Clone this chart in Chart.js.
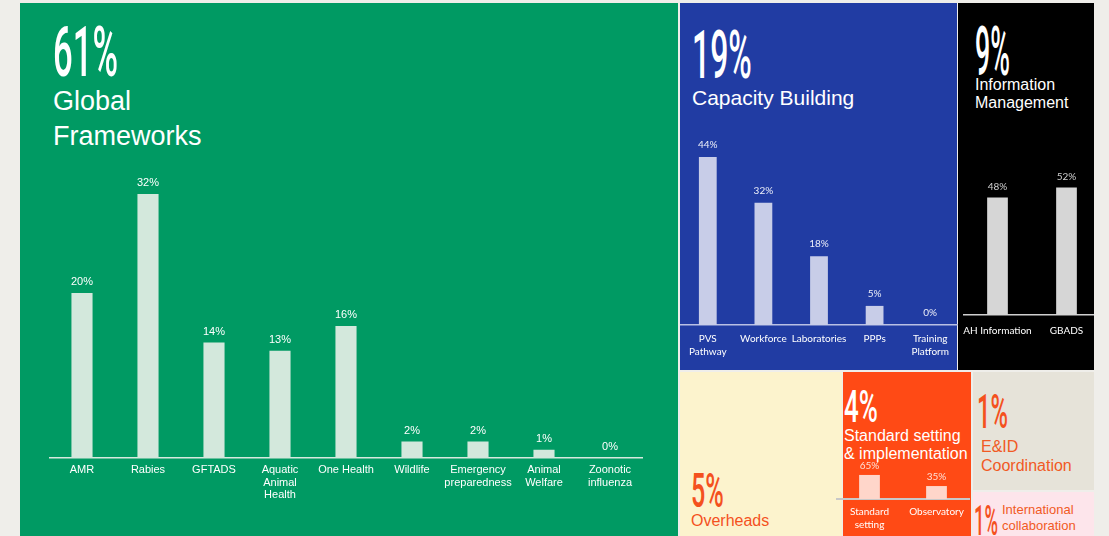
<!DOCTYPE html>
<html>
<head>
<meta charset="utf-8">
<script src="https://cdn.jsdelivr.net/npm/chart.js@4.4.1/dist/chart.umd.min.js"></script>
<style>
  html, body { margin: 0; padding: 0; }
  body { width: 1109px; height: 536px; overflow: hidden; background: #efeeea; position: relative; font-family: "Liberation Sans", Arial, sans-serif; }
  .panel { position: absolute; }
  .big { position: absolute; font-family: Roboto, sans-serif; font-weight: 500; line-height: 1; white-space: nowrap; transform-origin: 0 0; }
  .name { position: absolute; white-space: nowrap; }
  canvas { position: absolute; }
</style>
</head>
<body>
<!-- treemap panels -->
<div class="panel" style="left:20px;top:3px;width:658px;height:533px;background:#009a63"></div>
<div class="panel" style="left:680px;top:3px;width:277px;height:367px;background:#213ca3"></div>
<div class="panel" style="left:958px;top:3px;width:136px;height:367px;background:#000"></div>
<div class="panel" style="left:680px;top:372px;width:162px;height:164px;background:#fcf3cd"></div>
<div class="panel" style="left:843px;top:372px;width:128px;height:164px;background:#ff4a15"></div>
<div class="panel" style="left:973px;top:372px;width:121px;height:118px;background:#e6e3d9"></div>
<div class="panel" style="left:973px;top:492px;width:121px;height:44px;background:#fde5eb"></div>

<!-- shares -->
<div class="big" data-i="0" data-w="65" style="left:53px;top:17px;font-size:70px;color:#fff"></div>
<div class="big" data-i="1" data-w="60" style="left:692px;top:23px;font-size:66px;color:#fff"></div>
<div class="big" data-i="2" data-w="35" style="left:975px;top:18px;font-size:68px;color:#fff"></div>
<div class="big" data-i="3" data-w="33" style="left:691px;top:467px;font-size:48px;color:#f4511e"></div>
<div class="big" data-i="4" data-w="34" style="left:844px;top:384px;font-size:45px;color:#fff"></div>
<div class="big" data-i="5" data-w="31" style="left:977px;top:387px;font-size:49px;color:#f4511e"></div>
<div class="big" data-i="6" data-w="24" style="left:974px;top:500px;font-size:42px;color:#f4511e"></div>

<!-- names -->
<div class="name" style="left:53px;top:84px;font-size:27px;line-height:35px;color:#fff">Global<br>Frameworks</div>
<div class="name" style="left:692px;top:86px;font-size:21px;line-height:24px;color:#fff">Capacity Building</div>
<div class="name" style="left:975px;top:76px;font-size:16px;line-height:18px;color:#fff">Information<br>Management</div>
<div class="name" style="left:691px;top:512px;font-size:16px;line-height:18px;color:#f4511e">Overheads</div>
<div class="name" style="left:844px;top:427px;font-size:16px;line-height:18px;color:#fff">Standard setting<br>&amp; implementation</div>
<div class="name" style="left:981px;top:437px;font-size:16px;line-height:19px;color:#f15a24">E&amp;ID<br>Coordination</div>
<div class="name" style="left:1002px;top:502px;font-size:13px;line-height:16px;color:#f15a24">International<br>collaboration</div>

<canvas id="gf" width="594" height="388" style="left:49px;top:120px"></canvas>
<canvas id="cb" width="278" height="249" style="left:680px;top:120px"></canvas>
<div style="position:absolute;left:958px;top:140px;width:136px;height:230px;overflow:hidden">
  <canvas id="im" width="138" height="205" style="left:5px;top:10px"></canvas>
</div>
<canvas id="ss" width="134" height="90" style="left:836px;top:446px"></canvas>

<script>
const shares = [61, 19, 9, 5, 4, 1, 1];

const gfLabels = ['AMR', 'Rabies', 'GFTADS', ['Aquatic', 'Animal', 'Health'], 'One Health', 'Wildlife', ['Emergency', 'preparedness'], ['Animal', 'Welfare'], ['Zoonotic', 'influenza']];
const gfValues = [20, 32, 14, 13, 16, 2, 2, 1, 0];

const cbLabels = [['PVS', 'Pathway'], 'Workforce', 'Laboratories', 'PPPs', ['Training', 'Platform']];
const cbValues = [44, 32, 18, 5, 0];

const imLabels = ['AH Information', 'GBADS'];
const imValues = [48, 52];

const ssLabels = [['Standard', 'setting'], 'Observatory'];
const ssValues = [65, 35];

document.querySelectorAll('.big').forEach(el => {
    el.textContent = shares[+el.dataset.i] + '%';
    el.style.transform = 'scaleX(' + (el.dataset.w / el.offsetWidth) + ')';
});

// percentage text above each bar
const valueLabels = {
    id: 'valueLabels',
    afterDatasetsDraw(chart, args, o) {
        const ctx = chart.ctx;
        const values = chart.data.datasets[0].data;
        ctx.save();
        ctx.font = o.font;
        ctx.fillStyle = o.color;
        ctx.textAlign = 'center';
        ctx.textBaseline = 'middle';
        chart.getDatasetMeta(0).data.forEach((bar, i) => {
            ctx.fillText(values[i] + '%', bar.x, bar.y - o.gap);
        });
        ctx.restore();
    }
};

function barChart(id, labels, values, c) {
    return new Chart(id, {
        type: 'bar',
        data: {
            labels: labels,
            datasets: [{
                data: values,
                backgroundColor: c.bar,
                borderWidth: 0,
                barPercentage: c.bp,
                categoryPercentage: 1
            }]
        },
        options: {
            responsive: false,
            animation: false,
            layout: { padding: { top: c.padTop, left: 0, right: 0, bottom: 0 } },
            plugins: {
                legend: { display: false },
                tooltip: { enabled: false },
                valueLabels: { font: c.valFont, color: c.valColor, gap: c.gap }
            },
            scales: {
                y: { display: false, min: 0, max: c.max },
                x: {
                    grid: { display: false, drawTicks: false },
                    border: { display: true, color: c.axis, width: c.axisW },
                    ticks: { color: c.tick, font: c.tickFont, padding: c.tickPad, autoSkip: false, maxRotation: 0, minRotation: 0 },
                    afterFit: s => { s.height = c.axisH; s.paddingLeft = 0; s.paddingRight = 0; }
                }
            }
        },
        plugins: [valueLabels]
    });
}

barChart('gf', gfLabels, gfValues, {
    bar: '#d3e8dc', bp: 0.32, padTop: 8, max: 40, axisH: 50,
    axis: '#d6e9de', axisW: 1.5, tick: '#ffffff', tickPad: 6,
    tickFont: { family: 'Liberation Sans', size: 11, lineHeight: 1.14 },
    valFont: '11px "Liberation Sans"', valColor: '#ffffff', gap: 11
});

barChart('cb', cbLabels, cbValues, {
    bar: '#c8cde8', bp: 0.32, padTop: 14, max: 50, axisH: 44,
    axis: '#b9c0e4', axisW: 1.5, tick: '#ffffff', tickPad: 7,
    tickFont: { family: 'Lato', size: 10, lineHeight: 1.3 },
    valFont: '10px Lato', valColor: '#eceef8', gap: 12
});

barChart('im', imLabels, imValues, {
    bar: '#d6d6d6', bp: 0.3, padTop: 18, max: 60, axisH: 40,
    axis: '#cfcfcf', axisW: 1.5, tick: '#ffffff', tickPad: 9,
    tickFont: { family: 'Lato', size: 10, lineHeight: 1.3 },
    valFont: '10px Lato', valColor: '#d0d0d0', gap: 11
});

barChart('ss', ssLabels, ssValues, {
    bar: '#ffd6ca', bp: 0.31, padTop: 16, max: 100, axisH: 37,
    axis: '#c8c8c8', axisW: 2, tick: '#ffffff', tickPad: 6,
    tickFont: { family: 'Lato', size: 10, lineHeight: 1.3 },
    valFont: '10px Lato', valColor: '#ffe0d6', gap: 9
});
</script>
</body>
</html>
